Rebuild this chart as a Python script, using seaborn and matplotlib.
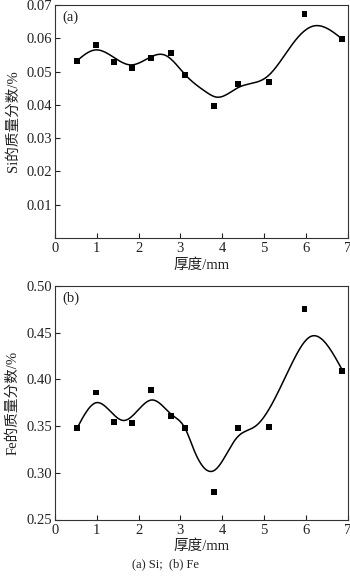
import numpy as np
import pandas as pd
import matplotlib
matplotlib.use("Agg")
import matplotlib.pyplot as plt
import seaborn as sns

sns.set_theme(style="white")
plt.rcParams["font.family"] = ["Liberation Serif", "Noto Sans CJK SC"]
plt.rcParams["axes.unicode_minus"] = False

# measured thickness positions (mm)
thickness = [0.53, 0.98, 1.41, 1.85, 2.29, 2.78, 3.12, 3.81, 4.37, 5.13, 5.97, 6.87]
si_content = [0.0532, 0.0580, 0.0530, 0.0510, 0.0540, 0.0557, 0.0490, 0.0397,
              0.0464, 0.0469, 0.0673, 0.0597]
fe_content = [0.348, 0.386, 0.354, 0.353, 0.389, 0.361, 0.348, 0.279,
              0.348, 0.349, 0.475, 0.409]

# knots of the smoothed trend curves
si_fit_x = [0.53, 0.96, 1.82, 2.64, 3.12, 3.60, 3.88, 4.40, 5.08, 5.76, 6.19, 6.88]
si_fit_y = [0.0533, 0.0565, 0.0520, 0.0549, 0.0490, 0.0440, 0.0423, 0.0453,
            0.0485, 0.0595, 0.0637, 0.0597]
fe_fit_x = [0.53, 0.98, 1.64, 2.32, 2.80, 3.12, 3.33, 3.81, 4.36, 4.80, 5.12,
            5.68, 6.12, 6.88]
fe_fit_y = [0.348, 0.375, 0.356, 0.378, 0.362, 0.347, 0.324, 0.3025, 0.338,
            0.350, 0.368, 0.418, 0.446, 0.4096]

x_ticks = [0, 1, 2, 3, 4, 5, 6, 7]
si_ticks = [0.01, 0.02, 0.03, 0.04, 0.05, 0.06, 0.07]
fe_ticks = [0.25, 0.30, 0.35, 0.40, 0.45, 0.50]


def natural_spline(xk, yk, n=300):
    xk = np.asarray(xk, float)
    yk = np.asarray(yk, float)
    m = len(xk)
    h = np.diff(xk)
    A = np.zeros((m, m))
    b = np.zeros(m)
    A[0, 0] = A[-1, -1] = 1.0
    for i in range(1, m - 1):
        A[i, i - 1] = h[i - 1]
        A[i, i] = 2 * (h[i - 1] + h[i])
        A[i, i + 1] = h[i]
        b[i] = 6 * ((yk[i + 1] - yk[i]) / h[i] - (yk[i] - yk[i - 1]) / h[i - 1])
    M = np.linalg.solve(A, b)
    xs = np.linspace(xk[0], xk[-1], n)
    idx = np.clip(np.searchsorted(xk, xs) - 1, 0, m - 2)
    x0, x1 = xk[idx], xk[idx + 1]
    hh = x1 - x0
    t0, t1 = x1 - xs, xs - x0
    ys = (M[idx] * t0 ** 3 + M[idx + 1] * t1 ** 3) / (6 * hh) \
        + (yk[idx] / hh - M[idx] * hh / 6) * t0 \
        + (yk[idx + 1] / hh - M[idx + 1] * hh / 6) * t1
    return xs, ys


fig = plt.figure(figsize=(3.5, 5.76), dpi=100)
W, H = 350, 576
ax1 = fig.add_axes([55 / W, 1 - 238 / H, 292.5 / W, 233 / H])
ax2 = fig.add_axes([55 / W, 1 - 519.5 / H, 292.5 / W, 233.5 / H])

panels = [
    (ax1, si_content, si_fit_x, si_fit_y, (0, 0.07), si_ticks, "Si的质量分数/%", "(a)"),
    (ax2, fe_content, fe_fit_x, fe_fit_y, (0.25, 0.50), fe_ticks, "Fe的质量分数/%", "(b)"),
]

for ax, vals, fx, fy, ylim, yt, ylab, tag in panels:
    pts = pd.DataFrame({"x": thickness, "y": vals})
    xs, ys = natural_spline(fx, fy)
    curve = pd.DataFrame({"x": xs, "y": ys})
    sns.lineplot(data=curve, x="x", y="y", ax=ax, color="black", lw=1.1,
                 sort=False, estimator=None)
    sns.scatterplot(data=pts, x="x", y="y", ax=ax, marker="s", s=18,
                    color="black", edgecolor="none", zorder=3)
    ax.set_xlim(0, 7)
    ax.set_ylim(*ylim)
    ax.set_xticks(x_ticks)
    ax.set_xticklabels([str(t) for t in x_ticks])
    ax.set_yticks(yt)
    ax.set_yticklabels(["%.2f" % t for t in yt])
    ax.tick_params(axis="both", direction="in", length=3.5, width=0.8,
                   labelsize=10.5, colors="#222222", left=True, bottom=True,
                   top=False, right=False)
    ax.tick_params(axis="x", pad=3)
    ax.tick_params(axis="y", pad=2)
    for sp in ax.spines.values():
        sp.set_color("#333333")
        sp.set_linewidth(0.8)
    ax.set_xlabel("厚度/mm", fontsize=10.5, labelpad=2, color="#222222")
    ax.set_ylabel(ylab, fontsize=10.5, labelpad=5, color="#222222")
    ax.text(0.025, 0.975, tag, transform=ax.transAxes, ha="left", va="top",
            fontsize=10.5, color="#222222")

fig.text(165 / W, 1 - 564 / H, "(a) Si;  (b) Fe", ha="center", va="center",
         fontsize=9, color="#222222")

fig.savefig("out.png", dpi=100, facecolor="white")
